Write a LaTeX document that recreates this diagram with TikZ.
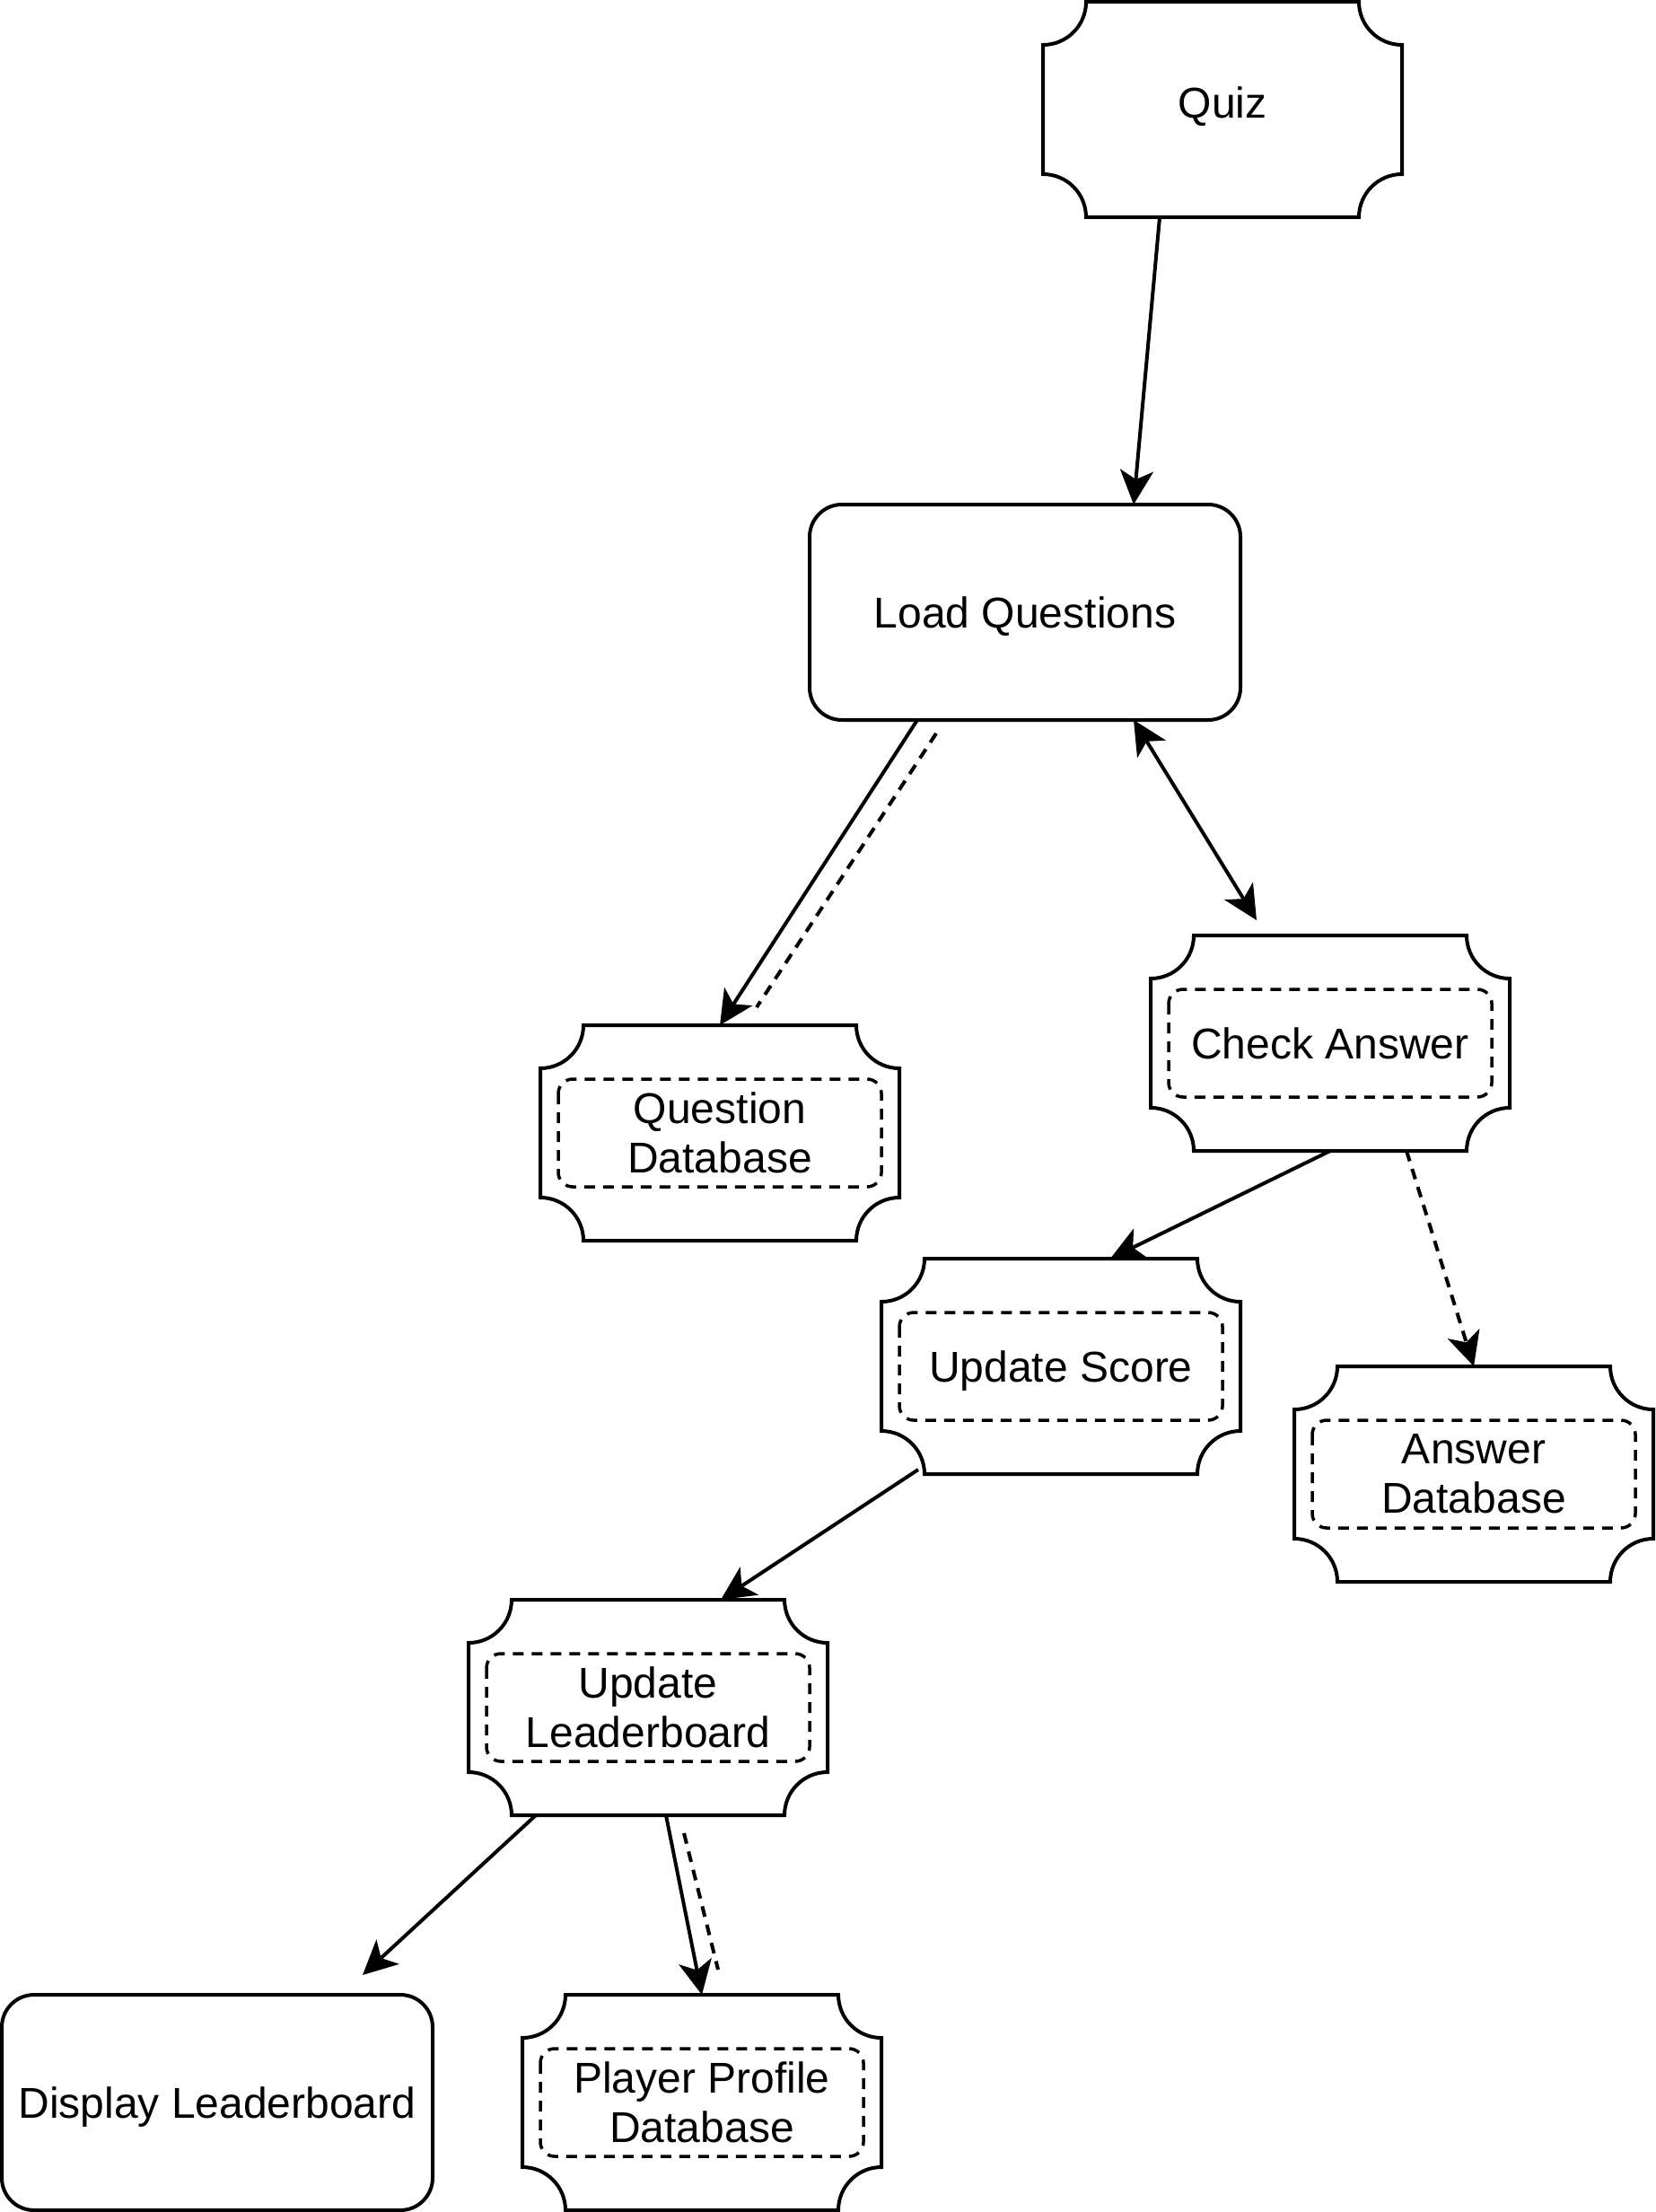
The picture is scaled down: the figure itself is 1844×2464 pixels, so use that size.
\documentclass[tikz,border=0pt]{standalone}
\usepackage{fontspec}
\setmainfont{Liberation Sans}
\usetikzlibrary{arrows.meta}

\newcommand{\plaque}[1]{%
  \draw[line width=4pt] ([xshift=48pt]#1.north west) -- ([xshift=-48pt]#1.north east)
    arc[start angle=180, end angle=270, radius=48pt] -- ([yshift=48pt]#1.south east)
    arc[start angle=90, end angle=180, radius=48pt] -- ([xshift=48pt]#1.south west)
    arc[start angle=0, end angle=90, radius=48pt] -- ([yshift=-48pt]#1.north west)
    arc[start angle=270, end angle=360, radius=48pt] -- cycle;}
\newcommand{\plaquebox}[1]{%
  \draw[line width=3.5pt, dash pattern=on 12pt off 9pt, rounded corners=16pt]
    ([shift={(20,60)}]#1.north west) rectangle ([shift={(-20,-60)}]#1.south east);}

\begin{document}
\begin{tikzpicture}[x=1pt, y=-1pt, line width=4pt,
  every node/.style={font=\fontsize{48}{55}\selectfont, align=center, inner sep=0pt, outer sep=0pt},
  one/.style={text height=34pt, text depth=0pt},
  ticket/.style={minimum width=400pt, minimum height=240pt},
  roundbox/.style={draw, rounded corners=36pt, minimum width=480pt, minimum height=240pt},
  link/.style={line width=4pt, -{Stealth[length=38pt, width=37pt, inset=10pt]}},
  dlink/.style={line width=4pt, {Stealth[length=38pt, width=37pt, inset=10pt]}-{Stealth[length=38pt, width=37pt, inset=10pt]}},
  dashlink/.style={line width=4pt, dash pattern=on 12pt off 9pt}]
\useasboundingbox (0,0) rectangle (1844,2464);
\node[ticket, one, text depth=14pt] (quiz) at (1362,122) {Quiz};
\node[roundbox, one] (load) at (1142,682) {Load Questions};
\node[ticket] (qdb) at (802,1262) {Question\\Database};
\node[ticket, one] (check) at (1482,1162) {Check Answer};
\node[ticket, one] (score) at (1182,1522) {Update Score};
\node[ticket] (adb) at (1642,1642) {Answer\\Database};
\node[ticket] (ul) at (722,1902) {Update\\Leaderboard};
\node[roundbox, one] (disp) at (242,2342) {Display Leaderboard};
\node[ticket] (ppdb) at (782,2342) {Player Profile\\Database};
\plaque{quiz}
\plaque{qdb} \plaquebox{qdb}
\plaque{check} \plaquebox{check}
\plaque{score} \plaquebox{score}
\plaque{adb} \plaquebox{adb}
\plaque{ul} \plaquebox{ul}
\plaque{ppdb} \plaquebox{ppdb}
\draw[link] ([xshift=-70pt]quiz.south) -- ([xshift=121pt]load.north);
\draw[link] ([xshift=-120pt]load.south) -- (qdb.north);
\draw[dashlink] ([shift={(-99,15)}]load.south) -- ([shift={(41,-20)}]qdb.north);
\draw[dlink] ([xshift=121pt]load.south) -- ([shift={(-82,-17)}]check.north);
\draw[link] (check.south) -- ([xshift=55pt]score.north);
\draw[link, dashlink] ([xshift=85pt]check.south) -- (adb.north);
\draw[link] ([shift={(-159,-5)}]score.south) -- ([xshift=81pt]ul.north);
\draw[link] ([xshift=-125pt]ul.south) -- ([shift={(162,-22)}]disp.north);
\draw[link] ([xshift=20pt]ul.south) -- (ppdb.north);
\draw[dashlink] ([shift={(40,20)}]ul.south) -- ([shift={(18,-28)}]ppdb.north);
\end{tikzpicture}
\end{document}
